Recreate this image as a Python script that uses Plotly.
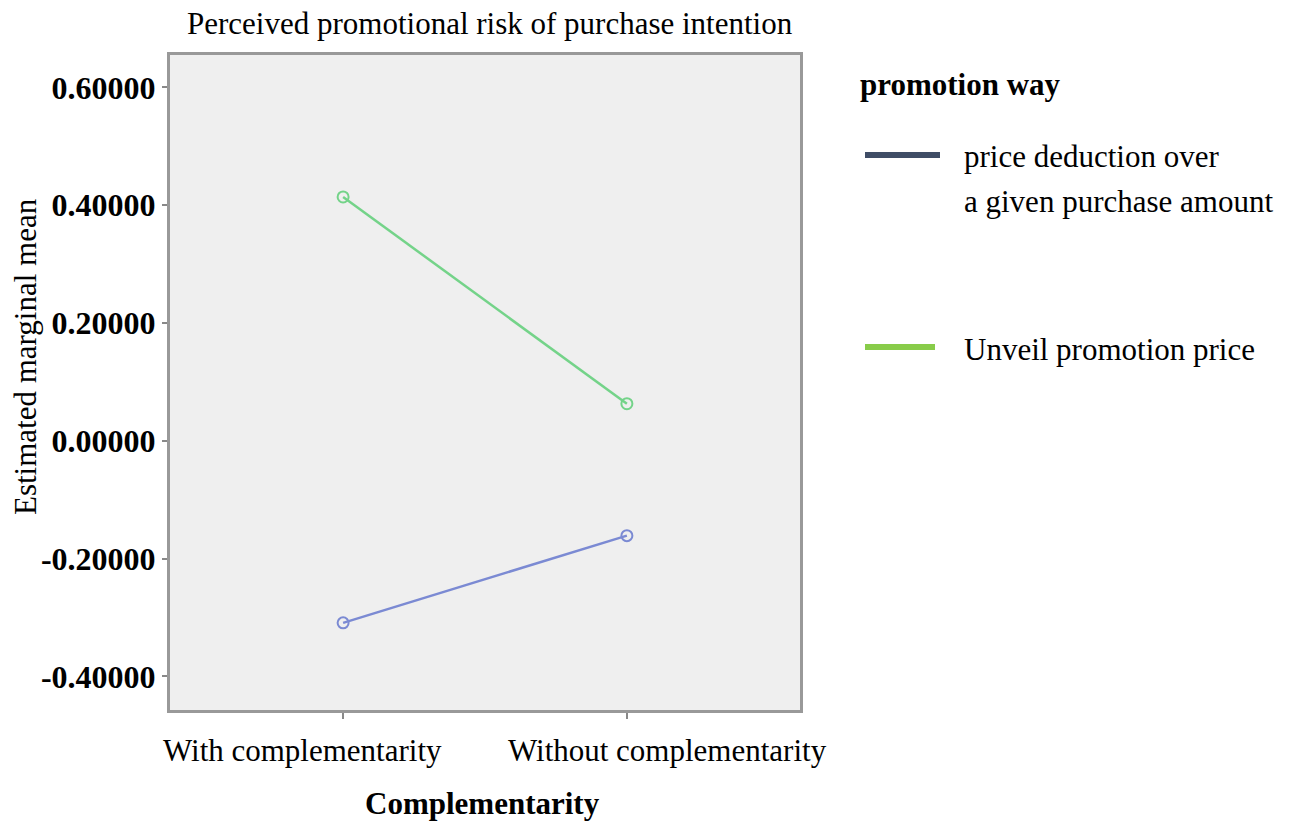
import plotly.graph_objects as go

categories = ["With complementarity", "Without complementarity"]
price_deduction = [-0.309, -0.161]
unveil_price = [0.414, 0.063]
y_ticks = [-0.4, -0.2, 0.0, 0.2, 0.4, 0.6]
y_tick_labels = ["-0.40000", "-0.20000", "0.00000", "0.20000", "0.40000", "0.60000"]

FONT = "Liberation Serif"
OFF = 0  # body margin removed via post_script
W, H = 1291, 824
L, R, T, B = 170, W - 800, 55, H - 710

BLUE = "#7b8ad3"
GREEN = "#74d389"

fig = go.Figure()
fig.add_trace(go.Scatter(x=[0, 1], y=price_deduction, mode="lines+markers",
                         line=dict(color=BLUE, width=2.5),
                         marker=dict(symbol="circle-open", size=11, color=BLUE, line=dict(width=2)),
                         showlegend=False))
fig.add_trace(go.Scatter(x=[0, 1], y=unveil_price, mode="lines+markers",
                         line=dict(color=GREEN, width=2.5),
                         marker=dict(symbol="circle-open", size=11, color=GREEN, line=dict(width=2)),
                         showlegend=False))

fig.update_layout(
    width=W, height=H,
    margin=dict(l=L, r=R, t=T, b=B, autoexpand=False),
    paper_bgcolor="white",
    plot_bgcolor="#efefef",
    font=dict(family=FONT, color="black"),
    showlegend=False,
)
fig.update_xaxes(range=[-0.61, 1.61], tickvals=[0, 1], ticktext=["", ""],
                 tickangle=0, automargin=False,
                 ticks="outside", ticklen=6, tickcolor="#888", tickwidth=2,
                 showgrid=False, zeroline=False,
                 showline=True, linecolor="#999999", linewidth=3, mirror=True)
fig.update_yaxes(range=[-0.457, 0.655], tickvals=y_ticks, ticktext=["<b>%s</b>" % t for t in y_tick_labels],
                 automargin=False,
                 ticks="outside", ticklen=5, tickcolor="#888", tickwidth=2,
                 tickfont=dict(size=32, family=FONT),
                 showgrid=False, zeroline=False,
                 showline=True, linecolor="#999999", linewidth=3, mirror=True)


def px_x(px):
    return (px - OFF - L) / (W - L - R)


def px_y(py):
    return 1 - (py - OFF - T) / (H - T - B)


texts = [
    ("Perceived promotional risk of purchase intention", 490, 23, "center", 0),
    ("Estimated marginal mean", 25, 357, "center", -90),
    ("<b>Complementarity</b>", 482, 803, "center", 0),
    ("<b>promotion way</b>", 858, 85, "left", 0),
    ("price deduction over", 962, 157, "left", 0),
    ("a given purchase amount", 962, 202, "left", 0),
    ("Unveil promotion price", 962, 349, "left", 0),
]
ann = []
for t, px, py, xa, ang in texts:
    ann.append(dict(text=t, x=px_x(px), y=px_y(py), xref="paper", yref="paper",
                    showarrow=False, xanchor=xa, yanchor="middle", textangle=ang,
                    font=dict(size=31, family=FONT)))
# category labels, spread slightly outward from their ticks as in the reference
for i, (cat, shift) in enumerate(zip(categories, [-41, 41])):
    ann.append(dict(text=cat, x=i, y=px_y(750), xref="x", yref="paper", xshift=shift,
                    showarrow=False, xanchor="center", yanchor="middle",
                    font=dict(size=31, family=FONT)))
fig.update_layout(annotations=ann)

fig.add_shape(type="line", xref="paper", yref="paper", x0=px_x(865), x1=px_x(940), y0=px_y(155), y1=px_y(155),
              line=dict(color="#3f4d66", width=6))
fig.add_shape(type="line", xref="paper", yref="paper", x0=px_x(865), x1=px_x(935), y0=px_y(347), y1=px_y(347),
              line=dict(color="#88cc4a", width=6))

fig.write_html("out.html", config={"displayModeBar": False},
               post_script="document.body.style.margin='0px';")
